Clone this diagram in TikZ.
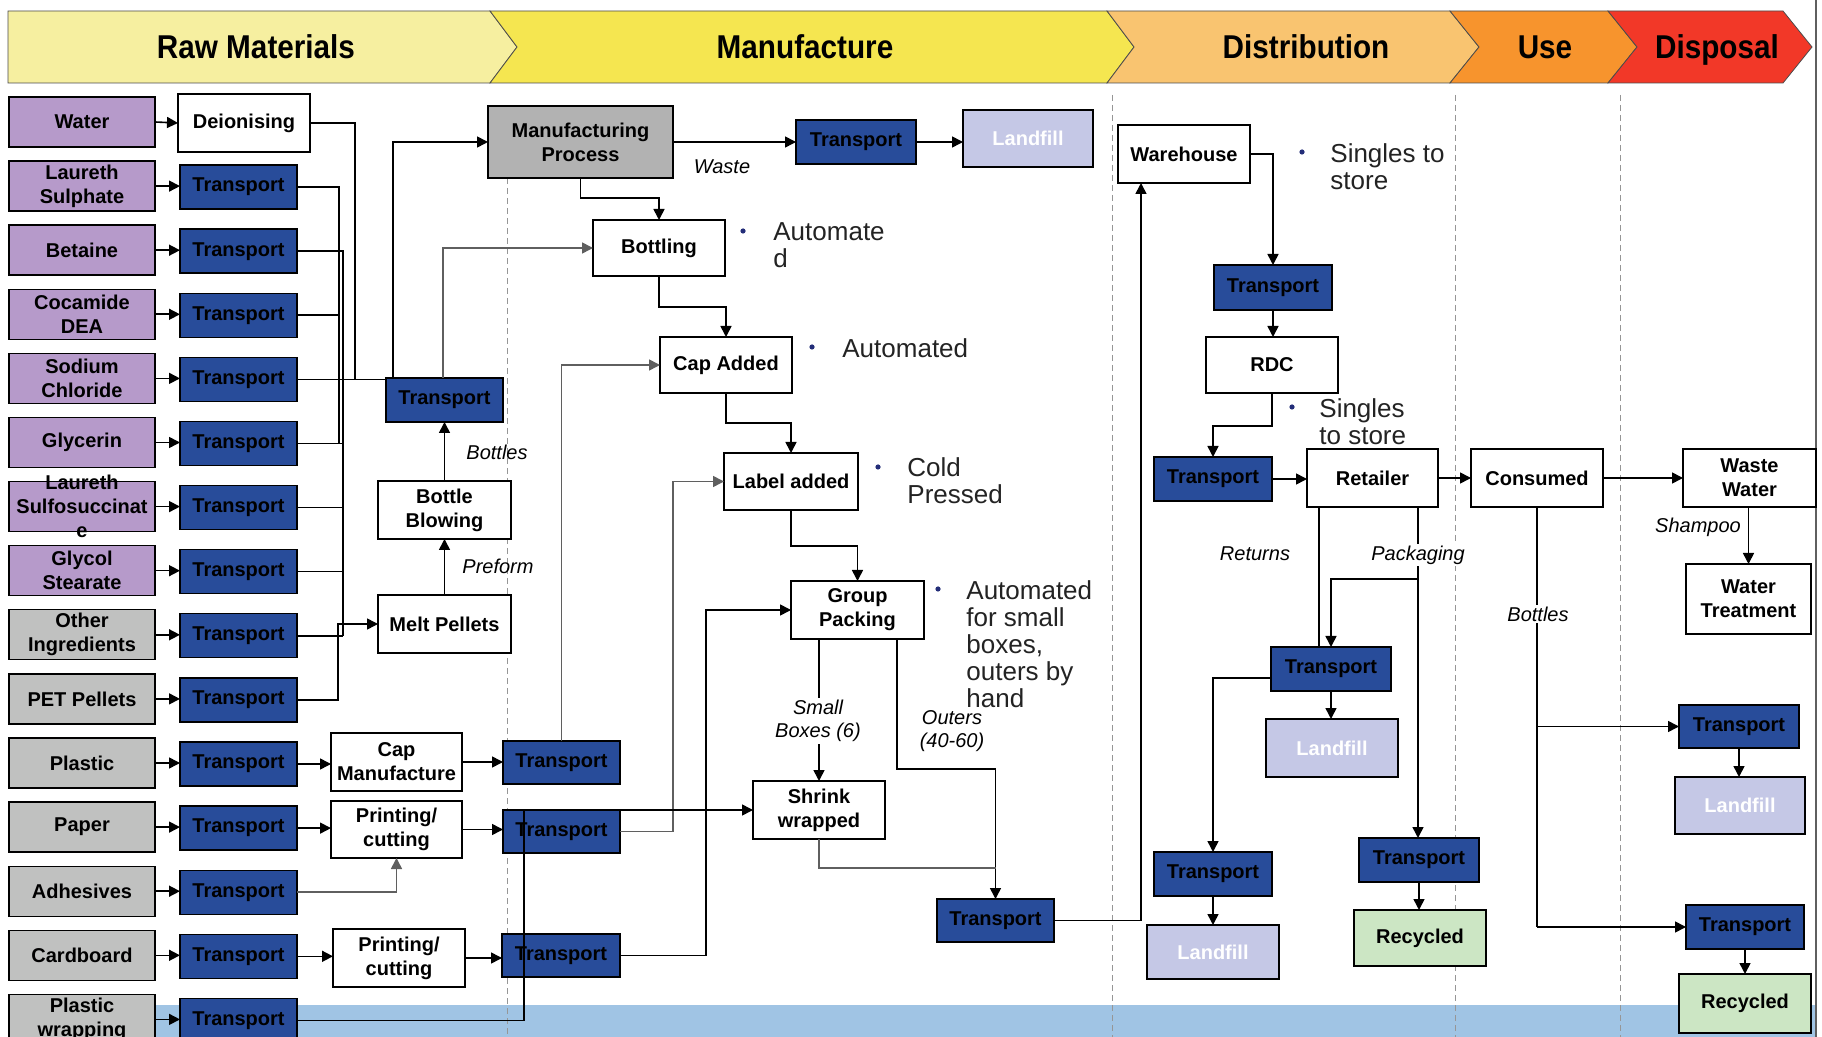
\documentclass[tikz,border=0pt]{standalone}
\usepackage{fontspec}
\setmainfont{Liberation Sans}
\newfontfamily\hdrfont[FakeStretch=0.9]{Liberation Sans}
\usetikzlibrary{arrows.meta,calc}
\definecolor{cPurple}{RGB}{182,154,202}
\definecolor{cGrey}{RGB}{192,193,192}
\definecolor{cMP}{RGB}{178,178,178}
\definecolor{cBlue}{RGB}{40,76,154}
\definecolor{cLand}{RGB}{197,200,230}
\definecolor{cRec}{RGB}{204,230,196}
\definecolor{cRaw}{RGB}{246,239,160}
\definecolor{cMan}{RGB}{245,230,80}
\definecolor{cDis}{RGB}{249,196,112}
\definecolor{cUse}{RGB}{247,148,45}
\definecolor{cDsp}{RGB}{242,56,40}
\definecolor{cBand}{RGB}{160,196,228}
\definecolor{cDash}{RGB}{150,150,150}
\definecolor{cLine}{RGB}{95,95,95}
\definecolor{cBullet}{RGB}{35,45,120}
\definecolor{cNote}{RGB}{35,35,35}
\newcommand\bxfont{\fontsize{10}{12}\selectfont\bfseries}
\newcommand\lblfont{\fontsize{10}{11.7}\selectfont\itshape}
\newcommand\notefont{\fontsize{13}{13.5}\selectfont}
\newcommand\hdfont{\hdrfont\bfseries\fontsize{16.5}{18}\selectfont}
\newcommand\mybox[7]{\node[#1, minimum width={(#5-#3)*0.5pt}, minimum height={(#6-#4)*0.5pt}] (#2) at ({(#3+#5)/2},{(#4+#6)/2}) {#7};}
\newcommand\row[4]{%
  \node[#3, minimum width=73pt, minimum height=25pt] (r#2) at (82,{122+64.1*#1}) {#4};
  \node[trbox, minimum width=58.5pt, minimum height=22pt] (t#2) at (238.5,{123+64.1*#1}) {Transport};
  \draw[ar] (r#2.east) -- (r#2.east -| t#2.west);}
\begin{document}
\begin{tikzpicture}[x=0.5pt,y=-0.5pt,
  bx/.style={draw=black, line width=0.7pt, inner sep=0pt, outer sep=0pt, align=center, font=\bxfont},
  wbox/.style={bx, fill=white},
  purp/.style={bx, fill=cPurple},
  greybox/.style={bx, fill=cGrey},
  mpbox/.style={bx, fill=cMP},
  trbox/.style={bx, fill=cBlue},
  lfbox/.style={bx, fill=cLand, text=white},
  rcbox/.style={bx, fill=cRec},
  ln/.style={draw=black, line width=0.8pt},
  gl/.style={draw=cLine},
  ar/.style={ln, -{Triangle[length=5.5pt,width=5.5pt]}},
  lbl/.style={font=\lblfont, inner sep=1pt},
  note/.style={font=\notefont, text=cNote, align=left, inner sep=0pt, anchor=north west},
  hdr/.style={draw=black!70, line width=0.4pt},
  htxt/.style={font=\hdfont, anchor=base, inner sep=0pt},
  dsh/.style={draw=cDash, line width=0.5pt, dash pattern=on 3pt off 2pt}]
\useasboundingbox (0,0) rectangle (1822,1037);
\fill[white] (0,0) rectangle (1822,1037);
\fill[cBand] (9,1005) rectangle (1816,1037);
% dashed stage separators
\draw[dsh] (507,178) -- (507,1037);
\draw[dsh] (1112,95) -- (1112,1037);
\draw[dsh] (1455,95) -- (1455,1037);
\draw[dsh] (1620,95) -- (1620,1037);
\draw[cLine, line width=0.8pt] (1816,0) -- (1816,1037);
% header
\filldraw[hdr, fill=cRaw] (8,11) -- (490,11) -- (517,47) -- (490,83) -- (8,83) -- cycle;
\filldraw[hdr, fill=cMan] (490,11) -- (1107,11) -- (1134,47) -- (1107,83) -- (490,83) -- (517,47) -- cycle;
\filldraw[hdr, fill=cDis] (1107,11) -- (1450,11) -- (1479,47) -- (1450,83) -- (1107,83) -- (1134,47) -- cycle;
\filldraw[hdr, fill=cUse] (1450,11) -- (1608,11) -- (1637,47) -- (1608,83) -- (1450,83) -- (1479,47) -- cycle;
\filldraw[hdr, fill=cDsp] (1608,11) -- (1783,11) -- (1812,47) -- (1783,83) -- (1608,83) -- (1637,47) -- cycle;
\node[htxt] (hRaw) at (256,59) {Raw Materials};
\node[htxt] (hMan) at (805,59) {Manufacture};
\node[htxt] (hDis) at (1306,59) {Distribution};
\node[htxt] (hUse) at (1545,59) {Use};
\node[htxt] (hDsp) at (1717,59) {Disposal};
% raw materials column
\node[purp, minimum width=73pt, minimum height=25pt] (rW) at (82,122) {Water};
\mybox{wbox}{dei}{178}{94}{310}{152}{Deionising}
\draw[ar] (rW.east) -- (dei.west);
\row{1}{LS}{purp}{Laureth\\Sulphate}
\row{2}{Be}{purp}{Betaine}
\row{3}{Co}{purp}{Cocamide\\DEA}
\row{4}{Na}{purp}{Sodium\\Chloride}
\row{5}{Gly}{purp}{Glycerin}
\row{6}{LSS}{purp}{}
\node[font=\bxfont, align=center, inner sep=0pt] (lsstxt) at (rLSS) {Laureth\\Sulfosuccinat\\e};
\row{7}{GS}{purp}{Glycol\\Stearate}
\row{8}{Oth}{greybox}{Other\\Ingredients}
\row{9}{PET}{greybox}{PET Pellets}
\row{10}{Pl}{greybox}{Plastic}
\row{11}{Pa}{greybox}{Paper}
\row{12}{Ad}{greybox}{Adhesives}
\row{13}{Cb}{greybox}{Cardboard}
\row{14}{Pw}{greybox}{Plastic\\wrapping}
% manufacture
\mybox{wbox}{bb}{378}{481}{511}{539}{Bottle\\Blowing}
\mybox{wbox}{melt}{378}{595}{511}{653}{Melt Pellets}
\mybox{trbox}{ct}{386}{378}{503}{422}{Transport}
\mybox{mpbox}{mp}{488}{106}{673}{178}{Manufacturing\\Process}
\mybox{trbox}{tw}{796}{120}{916}{164}{Transport}
\mybox{lfbox}{lf0}{963}{110}{1093}{167}{Landfill}
\mybox{wbox}{bot}{593}{220}{725}{276}{Bottling}
\mybox{wbox}{cap}{660}{337}{792}{393}{Cap Added}
\mybox{wbox}{lab}{724}{453}{858}{510}{Label added}
\mybox{wbox}{gp}{791}{581}{924}{639}{Group\\Packing}
\mybox{wbox}{shr}{753}{781}{885}{839}{Shrink\\wrapped}
\mybox{trbox}{ft}{937}{899}{1054}{942}{Transport}
\mybox{wbox}{cm}{331}{733}{462}{791}{Cap\\Manufacture}
\mybox{trbox}{tCap}{503}{741}{620}{784}{Transport}
\mybox{wbox}{pc1}{331}{801}{462}{858}{Printing/\\cutting}
\mybox{trbox}{tPap2}{503}{810}{620}{853}{Transport}
\mybox{wbox}{pc2}{333}{929}{465}{987}{Printing/\\cutting}
\mybox{trbox}{tCb2}{502}{934}{620}{977}{Transport}
% distribution / use / disposal
\mybox{wbox}{wh}{1118}{125}{1250}{183}{Warehouse}
\mybox{trbox}{td1}{1214}{265}{1332}{310}{Transport}
\mybox{wbox}{rdc}{1206}{337}{1338}{393}{RDC}
\mybox{trbox}{td2}{1154}{457}{1272}{501}{Transport}
\mybox{wbox}{ret}{1307}{449}{1438}{507}{Retailer}
\mybox{wbox}{con}{1471}{449}{1603}{507}{Consumed}
\mybox{wbox}{ww}{1683}{449}{1816}{507}{Waste\\Water}
\mybox{wbox}{wt}{1686}{564}{1811}{634}{Water\\Treatment}
\mybox{trbox}{trr}{1271}{647}{1391}{691}{Transport}
\mybox{lfbox}{lf1}{1266}{719}{1398}{777}{Landfill}
\mybox{trbox}{tl2}{1154}{852}{1272}{896}{Transport}
\mybox{lfbox}{lf2}{1147}{925}{1279}{979}{Landfill}
\mybox{trbox}{trc}{1359}{838}{1479}{882}{Transport}
\mybox{rcbox}{rc1}{1354}{910}{1486}{966}{Recycled}
\mybox{trbox}{tu1}{1679}{705}{1799}{748}{Transport}
\mybox{lfbox}{lf3}{1675}{777}{1805}{834}{Landfill}
\mybox{trbox}{tu2}{1686}{905}{1804}{949}{Transport}
\mybox{rcbox}{rc2}{1679}{974}{1811}{1033}{Recycled}
% left wiring
\draw[ln] (dei.east) -| ($(tNa.east)+(58,0)$);
\draw[ln] (tNa.east) -- (tNa.east -| ct.north west);
\draw[ln] (tLS.east) -| ($(tGly.east)+(42,0)$);
\draw[ln] (tCo.east) -- ++(42,0);
\draw[ln] (tBe.east) -| ($(tOth.east)+(46,0)$);
\foreach \n in {Gly,LSS,GS,Oth} \draw[ln] (t\n.east) -- ++(46,0);
\draw[ar] (tPET.east) -- ++(41,0) |- (melt.west);
\draw[ar] (melt.north) -- (bb.south);
\draw[ar] (bb.north) -- (ct.south);
\draw[ar] ([xshift=3.5pt]ct.north west) |- (mp.west);
\draw[ar,gl] ([xshift=28.5pt]ct.north west) |- (bot.west);
% manufacture chain
\draw[ar] (mp.east) -- (tw.west);
\draw[ar] (tw.east) -- (tw.east -| lf0.west);
\draw[ar] (mp.south) -- ++(0,20) -| (bot.north);
\draw[ar] (bot.south) -- ++(0,31) -| (cap.north);
\draw[ar] (cap.south) -- ++(0,30) -| (lab.north);
\draw[ar] (lab.south) -- ++(0,36) -| (gp.north);
\draw[ar] (gp.south -| shr.north) -- (shr.north);
\draw[ar] ([xshift=-13.5pt]gp.south east) -- ++(0,130) -| (ft.north);
\draw[ln,gl] (shr.south) |- ($(ft.north)+(0,-31)$);
\draw[ar] (tPl.east) -- (tPl.east -| cm.west);
\draw[ar] (cm.east) -- (cm.east -| tCap.west);
\draw[ar,gl] (tCap.north) |- (cap.west);
\draw[ar] (tPa.east) -- (tPa.east -| pc1.west);
\draw[ar] (pc1.east) -- (pc1.east -| tPap2.west);
\draw[ar,gl] (tPap2.east) -- ++(53,0) |- (lab.west);
\draw[ar,gl] (tAd.east) -| (pc1.south);
\draw[ar] (tCb.east) -- (tCb.east -| pc2.west);
\draw[ar] (pc2.east) -- (pc2.east -| tCb2.west);
\draw[ar] (tCb2.east) -- ++(86,0) |- (gp.west);
\draw[ar] (tPw.east) -- ++(227,0) |- (shr.west);
\draw[ar] (ft.east) -| ([xshift=-21.5pt]wh.south);
% distribution chain
\draw[ar] (wh.east) -| (td1.north);
\draw[ar] (td1.south) -- (td1.south |- rdc.north);
\draw[ar] (rdc.south) -- ++(0,33) -| (td2.north);
\draw[ar] (td2.east) -- (td2.east -| ret.west);
\draw[ar] (ret.east) -- (con.west);
\draw[ar] (con.east) -- (ww.west);
\draw[ar] (ww.south -| wt.north) -- (wt.north);
\draw[ln] ([xshift=6pt]ret.south west) -- ([xshift=6pt]ret.south west |- trr.north);
\draw[ar] ([xshift=-10pt]ret.south east) -- ([xshift=-10pt]ret.south east |- trc.north);
\draw[ar] ($(ret.south east)+(-20,72)$) -| (trr.north);
\draw[ar] (trr.south) -- (trr.south |- lf1.north);
\draw[ar] ([yshift=-4.5pt]trr.west) -| (tl2.north);
\draw[ar] (tl2.south) -- (tl2.south |- lf2.north);
\draw[ar] (trc.south) -- (trc.south |- rc1.north);
\draw[ln] (con.south) -- (con.south |- tu2.west);
\draw[ar] (con.south |- tu1.west) -- (tu1.west);
\draw[ar] (con.south |- tu2.west) -- (tu2.west);
\draw[ar] (tu1.south) -- (tu1.south |- lf3.north);
\draw[ar] (tu2.south) -- (tu2.south |- rc2.north);
% labels
\node[lbl] (lWaste) at (722,167) {Waste};
\node[lbl] (lBot1) at (497,452) {Bottles};
\node[lbl] (lPre) at (498,566) {Preform};
\node[lbl, fill=white, align=center] (lSmall) at (818,721) {Small\\Boxes (6)};
\node[lbl, align=center] (lOut) at (952,731) {Outers\\(40-60)};
\node[lbl] (lRet) at (1255,554) {Returns};
\node[lbl, fill=white] (lPack) at (1418,555) {Packaging};
\node[lbl] (lSham) at (1698,527) {Shampoo};
\node[lbl, fill=white] (lBot2) at (1538,614) {Bottles};
% notes
\fill[cBullet] (743,231) circle[radius=1.3pt];
\node[note] (n1) at (773,222) {Automate\\d};
\fill[cBullet] (812,347) circle[radius=1.3pt];
\node[note] (n2) at (842,338) {Automated};
\fill[cBullet] (878,467) circle[radius=1.3pt];
\node[note] (n3) at (907,457) {Cold\\Pressed};
\fill[cBullet] (938,589) circle[radius=1.3pt];
\node[note] (n4) at (966,580) {Automated\\for small\\boxes,\\outers by\\hand};
\fill[cBullet] (1302,152) circle[radius=1.3pt];
\node[note] (n5) at (1330,143) {Singles to\\store};
\fill[cBullet] (1292,407) circle[radius=1.3pt];
\node[note] (n6) at (1319,398) {Singles\\to store};
\end{tikzpicture}
\end{document}
